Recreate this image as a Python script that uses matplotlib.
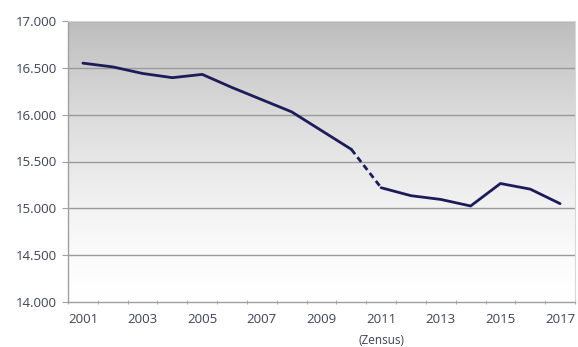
import matplotlib.pyplot as plt
import matplotlib.transforms as mtransforms
import numpy as np

years = list(range(2001, 2018))
values = [16550, 16510, 16440, 16395, 16430, 16290, 16160, 16030, 15830,
          15630, 15220, 15135, 15095, 15025, 15265, 15205, 15050]
yticks = [14000, 14500, 15000, 15500, 16000, 16500, 17000]
ytick_labels = ["14.000", "14.500", "15.000", "15.500", "16.000", "16.500", "17.000"]
xtick_years = list(range(2001, 2018, 2))

text_color = "#3c4257"
line_color = "#1c1c5a"

fig = plt.figure(figsize=(5.78, 3.47), dpi=100)
ax = fig.add_axes([68 / 578, 45 / 347, 507 / 578, 281 / 347])

# grey gradient background, dark at the top, fading to white
t = np.linspace(0, 1, 256)
shade = 1.0 - 0.26 * t ** 1.5
grad = np.dstack([shade, shade, shade])[0][:, None, :].repeat(2, axis=1)
ax.imshow(grad, extent=[2000.5, 2017.5, 14000, 17000], origin="lower",
          aspect="auto", zorder=0, interpolation="bilinear")

for y in yticks[1:]:
    ax.axhline(y, color="#9a9a9a", lw=1.0, zorder=1)

i = years.index(2010)
ax.plot(years[:i + 1], values[:i + 1], color=line_color, lw=2.0, zorder=3,
        solid_joinstyle="round", solid_capstyle="round")
ax.plot(years[i:i + 2], values[i:i + 2], color=line_color, lw=2.0, zorder=3,
        linestyle=(0, (2.2, 1.4)))
ax.plot(years[i + 1:], values[i + 1:], color=line_color, lw=2.0, zorder=3,
        solid_joinstyle="round", solid_capstyle="round")

ax.set_xlim(2000.5, 2017.5)
ax.set_ylim(14000, 17000)

ax.set_yticks(yticks)
ax.set_yticklabels(ytick_labels)
ax.set_xticks(xtick_years)
ax.set_xticklabels([str(y) for y in xtick_years])
ax.set_xticks(np.arange(2000.5, 2017.6, 1), minor=True)
ax.tick_params(axis="x", which="major", length=0, pad=8)
ax.tick_params(axis="x", which="minor", length=3, color="#a0a0a0", direction="inout")
ax.tick_params(axis="y", length=4, color="#a0a0a0", pad=4)
ax.tick_params(labelsize=9.5, labelcolor=text_color)
for lab in ax.get_xticklabels() + ax.get_yticklabels():
    lab.set_family("Open Sans")

for side in ["top", "right"]:
    ax.spines[side].set_color("#d8d8d8")
    ax.spines[side].set_linewidth(0.8)
for side in ["left", "bottom"]:
    ax.spines[side].set_color("#a0a0a0")
    ax.spines[side].set_linewidth(1.0)

trans = mtransforms.blended_transform_factory(ax.transData, fig.transFigure)
ax.text(2011, 7 / 347, "(Zensus)", transform=trans, ha="center", va="center",
        fontsize=8.5, color=text_color, family="Open Sans")

fig.savefig("out.png", dpi=100)
